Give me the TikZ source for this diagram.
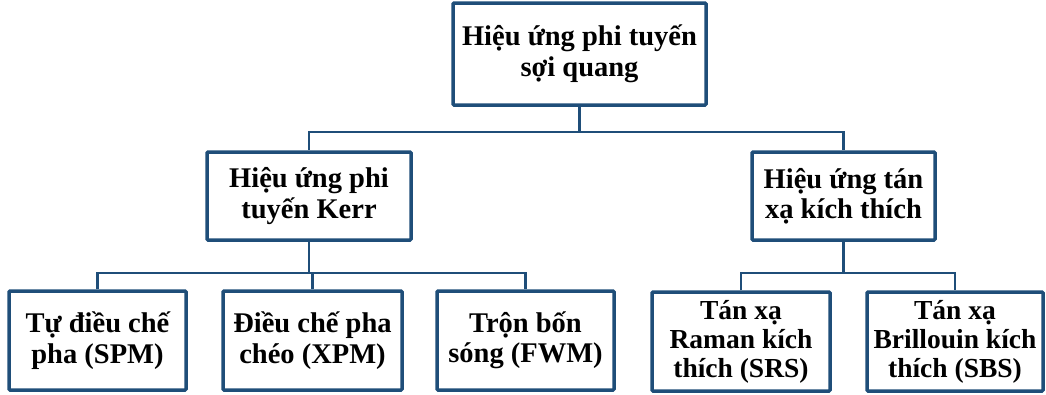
\documentclass[tikz,border=0pt]{standalone}
\usepackage{fontspec}
\setmainfont{Liberation Serif}
\definecolor{boxblue}{RGB}{31,78,121}
\begin{document}
\begin{tikzpicture}[x=1pt,y=-1pt,
  box/.style={draw=boxblue, line width=3.5pt, rounded corners=1pt, fill=white,
    align=center, inner sep=0pt, font=\fontsize{28.5}{30.5}\selectfont\bfseries},
  tallbox/.style={box, font=\fontsize{27.5}{29}\selectfont\bfseries},
  conn/.style={draw=boxblue, line width=2.4pt}]
\useasboundingbox (0,0) rectangle (1046,394);
\node[box, minimum width=253pt, minimum height=102pt] (root) at (579.5,54) {Hiệu ứng phi tuyến\\sợi quang};
\node[box, minimum width=204pt, minimum height=88pt] (kerr) at (309,196) {Hiệu ứng phi\\tuyến Kerr};
\node[box, minimum width=183pt, minimum height=88pt] (scat) at (843.5,196) {Hiệu ứng tán\\xạ kích thích};
\node[box, minimum width=177pt, minimum height=99pt] (spm) at (97.5,340.5) {Tự điều chế\\pha (SPM)};
\node[box, minimum width=179pt, minimum height=99pt] (xpm) at (312.5,340.5) {Điều chế pha\\chéo (XPM)};
\node[box, minimum width=177pt, minimum height=99pt] (fwm) at (525.5,340.5) {Trộn bốn\\sóng (FWM)};
\node[tallbox, minimum width=178pt, minimum height=99pt] (srs) at (741,341.5) {Tán xạ\\Raman kích\\thích (SRS)};
\node[tallbox, minimum width=176pt, minimum height=99pt] (sbs) at (955,341.5) {Tán xạ\\Brillouin kích\\thích (SBS)};
\coordinate (b1) at (0,132);
\coordinate (b2) at (0,273);
\draw[conn] (root.south) -- (root.south |- b1) -| (kerr.north);
\draw[conn] (root.south |- b1) -| (scat.north);
\draw[conn] (kerr.south) -- (kerr.south |- b2);
\draw[conn] (spm.north) |- (kerr.south |- b2) -| (fwm.north);
\draw[conn] (xpm.north) -- (xpm.north |- b2);
\draw[conn] (scat.south) -- (scat.south |- b2);
\draw[conn] (srs.north) |- (scat.south |- b2) -| (sbs.north);
\end{tikzpicture}
\end{document}
